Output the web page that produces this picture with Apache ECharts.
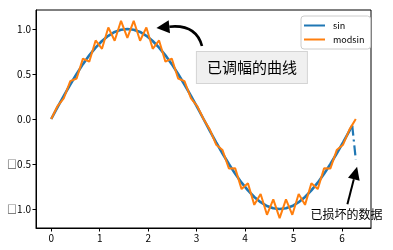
<!DOCTYPE html>
<html>
<head>
<meta charset="utf-8">
<script src="https://cdn.jsdelivr.net/npm/echarts@6/dist/echarts.min.js"></script>
<style>
  html, body { margin: 0; padding: 0; background: #fff; }
  #chart { width: 393px; height: 250px; }
</style>
</head>
<body>
<div id="chart"></div>
<script>
// Sample positions along x (0 .. 2π)
const xValues = [
  0, 0.131, 0.262, 0.393, 0.524, 0.654, 0.785, 0.916, 1.047, 1.178,
  1.309, 1.440, 1.571, 1.702, 1.833, 1.963, 2.094, 2.225, 2.356, 2.487,
  2.618, 2.749, 2.880, 3.011, 3.142, 3.272, 3.403, 3.534, 3.665, 3.796,
  3.927, 4.058, 4.189, 4.320, 4.451, 4.581, 4.712, 4.843, 4.974, 5.105,
  5.236, 5.367, 5.498, 5.629, 5.760, 5.890, 6.021, 6.152, 6.283
];

// "sin" curve, intact part
const sinValues = [
  0, 0.131, 0.259, 0.383, 0.500, 0.609, 0.707, 0.793, 0.866, 0.924,
  0.966, 0.991, 1.000, 0.991, 0.966, 0.924, 0.866, 0.793, 0.707, 0.609,
  0.500, 0.383, 0.259, 0.131, 0, -0.131, -0.259, -0.383, -0.500, -0.609,
  -0.707, -0.793, -0.866, -0.924, -0.966, -0.991, -1.000, -0.991, -0.966, -0.924,
  -0.866, -0.793, -0.707, -0.609, -0.500, -0.383, -0.259, -0.131
];

// Corrupted tail of the "sin" curve
const brokenX = [6.21, 6.283];
const brokenY = [-0.073, -0.45];

// Amplitude-modulated curve
const modsinValues = [
  0, 0.144, 0.233, 0.421, 0.450, 0.670, 0.636, 0.872, 0.779, 1.016,
  0.869, 1.090, 0.900, 1.090, 0.869, 1.016, 0.779, 0.872, 0.636, 0.670,
  0.450, 0.421, 0.233, 0.144, 0, -0.118, -0.285, -0.345, -0.550, -0.548,
  -0.778, -0.714, -0.953, -0.832, -1.063, -0.892, -1.100, -0.892, -1.063, -0.832,
  -0.953, -0.714, -0.778, -0.548, -0.550, -0.345, -0.285, -0.118, 0
];

const xTicks = [0, 1, 2, 3, 4, 5, 6];
const yTicks = [-1, -0.5, 0, 0.5, 1];
const seriesNames = ['sin', 'modsin'];

// Annotation anchors in data coordinates
const noteModulated = { text: '已调幅的曲线', textAt: [4.14, 0.571], tail: [3.11, 0.81], tip: [2.17, 1.01] };
const noteBroken = { text: '已损坏的数据', textAt: [6.09, -1.055], tail: [6.11, -0.945], tip: [6.31, -0.53] };

const FONT = '"Noto Sans CJK SC", "DejaVu Sans", sans-serif';
const BLUE = '#1f77b4';
const ORANGE = '#ff7f0e';

const sinData = sinValues.map((v, i) => [xValues[i], v]);
sinData.push([brokenX[0], brokenY[0]]);
const brokenData = brokenX.map((x, i) => [x, brokenY[i]]);
const modsinData = modsinValues.map((v, i) => [xValues[i], v]);

const chart = echarts.init(document.getElementById('chart'), null, { renderer: 'canvas' });

const tickLabel = v => v.toFixed(1).replace('-', '□');

chart.setOption({
  animation: false,
  backgroundColor: '#fff',
  textStyle: { fontFamily: FONT },
  grid: {
    left: 36, right: 22, top: 10, bottom: 22,
    show: true, borderColor: '#000', borderWidth: 1, backgroundColor: 'transparent'
  },
  legend: {
    data: seriesNames,
    orient: 'vertical',
    left: 301, top: 16,
    icon: 'rect',
    itemWidth: 21, itemHeight: 2,
    itemGap: 5,
    padding: [5, 6, 5, 3],
    borderColor: '#cccccc', borderWidth: 1, borderRadius: 3,
    backgroundColor: '#fff',
    textStyle: { fontFamily: FONT, fontSize: 9, color: '#000', padding: [0, 0, 0, 3] }
  },
  xAxis: {
    type: 'value',
    min: -0.314, max: 6.597,
    axisLine: { show: true, onZero: false, lineStyle: { color: '#000', width: 1 } },
    axisTick: { show: true, length: 3.5, customValues: xTicks, lineStyle: { color: '#000' } },
    axisLabel: { customValues: xTicks, formatter: v => String(v), fontSize: 10, color: '#000', margin: 5, fontFamily: FONT },
    splitLine: { show: false }
  },
  yAxis: {
    type: 'value',
    min: -1.21, max: 1.21,
    axisLine: { show: true, onZero: false, lineStyle: { color: '#000', width: 1 } },
    axisTick: { show: true, length: 3.5, customValues: yTicks, lineStyle: { color: '#000' } },
    axisLabel: { customValues: yTicks, formatter: tickLabel, fontSize: 10, color: '#000', margin: 5, fontFamily: FONT },
    splitLine: { show: false }
  },
  series: [
    {
      name: 'sin', type: 'line', data: sinData,
      showSymbol: false, symbol: 'none',
      lineStyle: { color: BLUE, width: 2.6 }, itemStyle: { color: BLUE }, z: 2
    },
    {
      name: 'sin-broken', type: 'line', data: brokenData,
      showSymbol: false, symbol: 'none',
      lineStyle: { color: BLUE, width: 2.2, type: [10, 4, 2, 4] }, z: 2
    },
    {
      name: 'modsin', type: 'line', data: modsinData,
      showSymbol: false, symbol: 'none',
      lineStyle: { color: ORANGE, width: 2 }, itemStyle: { color: ORANGE }, z: 3
    }
  ]
});

// Arrow annotations
function px(p) { return chart.convertToPixel({ gridIndex: 0 }, p); }

function arrowHead(tip, from, len, half) {
  const dx = tip[0] - from[0], dy = tip[1] - from[1];
  const d = Math.hypot(dx, dy);
  const ux = dx / d, uy = dy / d;
  const bx = tip[0] - ux * len, by = tip[1] - uy * len;
  return {
    base: [bx, by],
    points: [tip, [bx - uy * half, by + ux * half], [bx + uy * half, by - ux * half]]
  };
}

function buildAnnotations() {
  const g = [];

  // curved arrow toward the modulated curve
  const t1 = px(noteModulated.tail), p1 = px(noteModulated.tip);
  const c1 = [t1[0] - 6, p1[1] - 4];
  const h1 = arrowHead(p1, c1, 13, 6.5);
  g.push({
    type: 'bezierCurve', silent: true,
    shape: { x1: t1[0], y1: t1[1], x2: h1.base[0], y2: h1.base[1], cpx1: c1[0], cpy1: c1[1] },
    style: { stroke: '#000', lineWidth: 2.6, fill: null }
  });
  g.push({ type: 'polygon', silent: true, shape: { points: h1.points }, style: { fill: '#000' } });

  const tp1 = px(noteModulated.textAt);
  g.push({
    type: 'text', silent: true, x: tp1[0], y: tp1[1],
    style: {
      text: noteModulated.text, font: '15px ' + FONT, fill: '#000',
      align: 'center', verticalAlign: 'middle',
      backgroundColor: '#f0f0f0', borderColor: '#d4d4d4', borderWidth: 1,
      padding: [8, 10, 8, 10]
    }
  });

  // straight arrow toward the corrupted tail
  const t2 = px(noteBroken.tail), p2 = px(noteBroken.tip);
  const h2 = arrowHead(p2, t2, 13, 6);
  g.push({
    type: 'line', silent: true,
    shape: { x1: t2[0], y1: t2[1], x2: h2.base[0], y2: h2.base[1] },
    style: { stroke: '#000', lineWidth: 2 }
  });
  g.push({ type: 'polygon', silent: true, shape: { points: h2.points }, style: { fill: '#000' } });

  const tp2 = px(noteBroken.textAt);
  g.push({
    type: 'text', silent: true, x: tp2[0], y: tp2[1],
    style: {
      text: noteBroken.text, font: '12px ' + FONT, fill: '#000',
      align: 'center', verticalAlign: 'middle'
    }
  });

  chart.setOption({ graphic: { elements: g } });
}

buildAnnotations();
</script>
</body>
</html>
